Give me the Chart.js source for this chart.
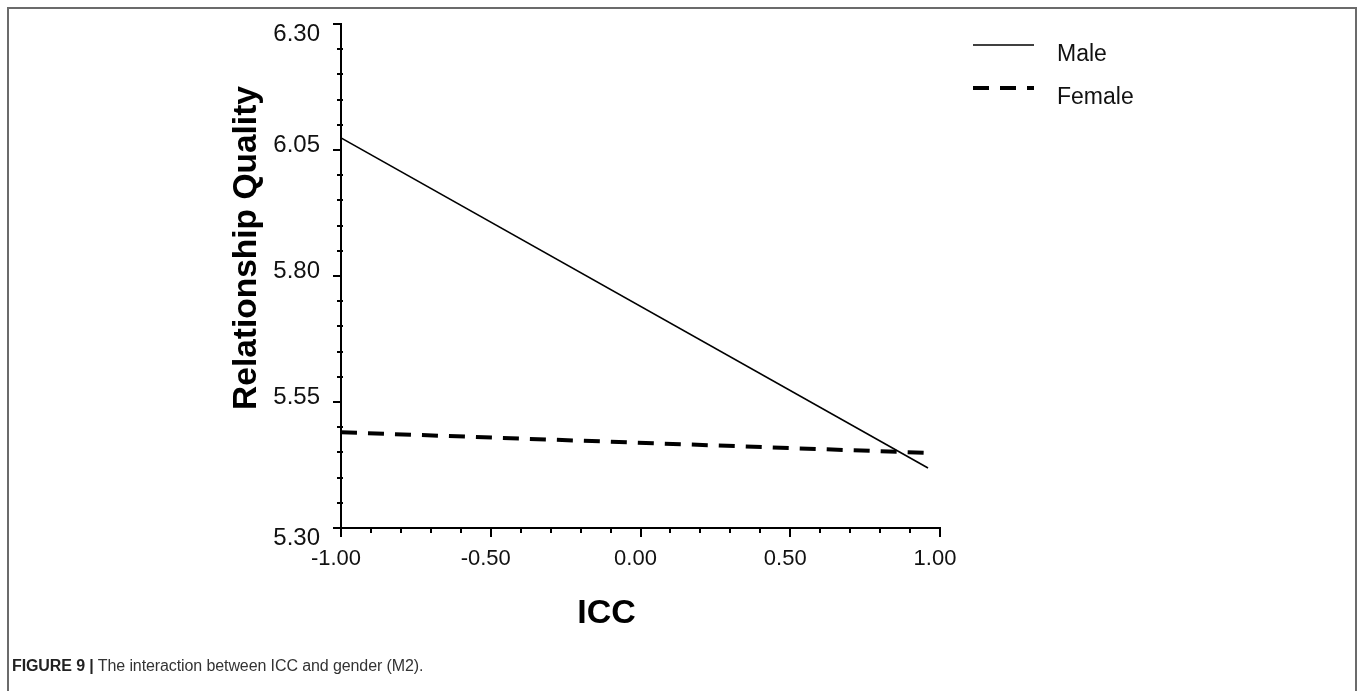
<!DOCTYPE html>
<html>
<head>
<meta charset="utf-8">
<title>ICC x gender</title>
<script src="https://cdn.jsdelivr.net/npm/chart.js@4.4.1/dist/chart.umd.min.js"></script>
<style>
	html, body { margin: 0; padding: 0; background: #fff; overflow: hidden; }
	#moldura {
		position: absolute; left: 7px; top: 7px; width: 1346px; height: 700px;
		border-left: 2px solid #6b6b6b; border-top: 2px solid #6b6b6b; border-right: 2px solid #6b6b6b;
	}
	#grafico { position: absolute; left: 0; top: 0; }
	#legenda {
		position: absolute; left: 12px; top: 657px;
		font-family: "Liberation Sans", Arial, sans-serif; font-size: 16px; color: #333;
		letter-spacing: -0.1px;
	}
	#legenda b { color: #222; }
</style>
</head>
<body>
<div id="moldura"></div>
<canvas id="grafico" width="1358" height="691"></canvas>
<div id="legenda"><b>FIGURE 9 |</b> The interaction between ICC and gender (M2).</div>
<script>
// ICC values at the two ends of each simple slope
var icc = [-1.00, 0.96];
var male = [6.074, 5.419];
var female = [5.490, 5.449];

var seriesNames = ['Male', 'Female'];
var xTicks = [-1.00, -0.50, 0.00, 0.50, 1.00];
var yTicks = [5.30, 5.55, 5.80, 6.05, 6.30];
var xMinorStep = 0.10;
var yMinorStep = 0.05;
var xTitle = 'ICC';
var yTitle = 'Relationship Quality';

var FONT = '"Liberation Sans", Arial, sans-serif';

function pontos(xs, ys) {
	return xs.map(function(x, i) { return { x: x, y: ys[i] }; });
}

// ticks, labels, titles and the key are drawn here from the chart scales
var eixos = {
	id: 'eixos',
	afterDraw: function(chart) {
		var ctx = chart.ctx;
		var sx = chart.scales.x;
		var sy = chart.scales.y;
		var area = chart.chartArea;
		var i, v, p;

		ctx.save();
		ctx.strokeStyle = '#000';
		ctx.lineWidth = 2;
		ctx.beginPath();

		// y axis: minor ticks crossing the line, major ticks outside
		var nY = Math.round((yTicks[yTicks.length - 1] - yTicks[0]) / yMinorStep);
		for (i = 0; i <= nY; i++) {
			v = yTicks[0] + i * yMinorStep;
			p = Math.round(sy.getPixelForValue(v));
			if (i % 5 === 0) {
				ctx.moveTo(area.left - 8, p); ctx.lineTo(area.left, p);
			} else {
				ctx.moveTo(area.left - 4, p); ctx.lineTo(area.left + 2, p);
			}
		}
		// x axis: ticks hang below
		var nX = Math.round((xTicks[xTicks.length - 1] - xTicks[0]) / xMinorStep);
		for (i = 0; i <= nX; i++) {
			v = xTicks[0] + i * xMinorStep;
			p = Math.round(sx.getPixelForValue(v));
			ctx.moveTo(p, area.bottom);
			ctx.lineTo(p, area.bottom + (i % 5 === 0 ? 9 : 5));
		}
		ctx.stroke();

		ctx.fillStyle = '#111';
		ctx.font = '24px ' + FONT;
		ctx.textAlign = 'right';
		ctx.textBaseline = 'middle';
		yTicks.forEach(function(t, k) {
			var off = (k === 0 || k === yTicks.length - 1) ? 10 : -5;
			ctx.fillText(t.toFixed(2), area.left - 21, sy.getPixelForValue(t) + off);
		});
		ctx.font = '22px ' + FONT;
		ctx.textAlign = 'center';
		xTicks.forEach(function(t) {
			ctx.fillText(t.toFixed(2), sx.getPixelForValue(t) - 5, area.bottom + 31);
		});

		ctx.font = 'bold 34px ' + FONT;
		ctx.fillStyle = '#000';
		ctx.fillText(xTitle, (area.left + area.right) / 2 - 34, area.bottom + 86);
		ctx.save();
		ctx.font = 'bold 33.5px ' + FONT;
		ctx.translate(area.left - 94, (area.top + area.bottom) / 2 - 28);
		ctx.rotate(-Math.PI / 2);
		ctx.fillText(yTitle, 0, 0);
		ctx.restore();

		// key
		ctx.font = '23px ' + FONT;
		ctx.textAlign = 'left';
		chart.data.datasets.forEach(function(ds, k) {
			var ly = 45 + k * 43;
			ctx.beginPath();
			ctx.lineWidth = ds.borderWidth;
			ctx.setLineDash(ds.borderDash || []);
			ctx.moveTo(973, ly);
			ctx.lineTo(1034, ly);
			ctx.stroke();
			ctx.setLineDash([]);
			ctx.fillStyle = '#111';
			ctx.fillText(ds.label, 1057, ly + 10);
		});
		ctx.restore();
	}
};

var grafico = new Chart(document.getElementById('grafico').getContext('2d'), {
	type: 'line',
	data: {
		datasets: [{
			label: seriesNames[0],
			data: pontos(icc, male),
			borderColor: '#000',
			borderWidth: 1.6,
			pointRadius: 0,
			tension: 0
		}, {
			label: seriesNames[1],
			data: pontos(icc, female),
			borderColor: '#000',
			borderWidth: 4,
			borderDash: [16, 11],
			pointRadius: 0,
			tension: 0
		}]
	},
	options: {
		responsive: false,
		animation: false,
		// the scales still take 8px each, so the area ends at x 341 / y 528
		layout: { padding: { left: 333, top: 24, right: 418, bottom: 155 } },
		plugins: { legend: { display: false }, tooltip: { enabled: false } },
		scales: {
			x: {
				type: 'linear',
				min: xTicks[0],
				max: xTicks[xTicks.length - 1],
				grid: { display: false },
				ticks: { display: false },
				border: { display: true, color: '#000', width: 2 }
			},
			y: {
				type: 'linear',
				min: yTicks[0],
				max: yTicks[yTicks.length - 1],
				grid: { display: false },
				ticks: { display: false },
				border: { display: true, color: '#000', width: 2 }
			}
		}
	},
	plugins: [eixos]
});
</script>
</body>
</html>
